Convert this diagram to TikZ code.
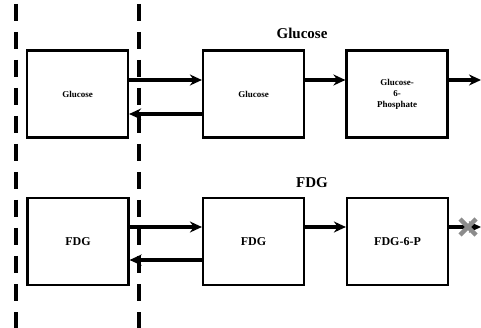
\documentclass[tikz,border=0pt]{standalone}
\usepackage{fontspec}
\setmainfont{Liberation Serif}
\usetikzlibrary{positioning,arrows.meta,patterns}

\begin{document}
\begin{tikzpicture}[
  x=1pt, y=-1pt, >={Stealth[length=12pt,width=11pt]},
  box/.style={draw,line width=2.2pt,minimum width=101pt,minimum height=87pt,
              align=center,inner sep=2pt,font=\bfseries},
  ttl/.style={font=\bfseries\fontsize{15}{15}\selectfont},
  k/.style={->,line width=3.6pt},
  sep/.style={line width=3.6pt,dash pattern=on 17pt off 11pt},
  hatch/.style={line width=4.5pt,black!45},
]
\useasboundingbox (0,0) rectangle (481,328);
% membrane lines
\draw[sep] (16,4) -- (16,328);
\draw[sep] (139,4) -- (139,328);

% glucose row
\node[ttl] (tg) at (302,33) {Glucose};
\node[box,font=\bfseries\fontsize{9}{10}\selectfont] (g1) at (77.5,94) {Glucose};
\node[box,font=\bfseries\fontsize{9}{10}\selectfont] (g2) at (253.5,94) {Glucose};
\node[box,font=\bfseries\fontsize{9}{11}\selectfont] (g3) at (397,94) {Glucose-\\6-\\Phosphate};
\coordinate (gout) at (481,80);

\draw[k] ([yshift=14pt]g1.east) -- ([yshift=14pt]g2.west);
\draw[k] ([yshift=-20pt]g2.west) -- ([yshift=-20pt]g1.east);
\draw[k] ([yshift=14pt]g2.east) -- ([yshift=14pt]g3.west);
\draw[k] ([yshift=14pt]g3.east) -- (gout);

% FDG row
\node[ttl] (tf) at (312,183) {FDG};
\node[box,font=\bfseries\fontsize{12}{13}\selectfont] (f1) at (78,241.5) {FDG};
\node[box,font=\bfseries\fontsize{12}{13}\selectfont] (f2) at (253.5,241.5) {FDG};
\node[box,font=\bfseries\fontsize{12}{13}\selectfont] (f3) at (397.5,241.5) {FDG-6-P};
\coordinate (fout) at (481,227);

\draw[k] ([yshift=14.5pt]f1.east) -- ([yshift=14.5pt]f2.west);
\draw[k] ([yshift=-18.5pt]f2.west) -- ([yshift=-18.5pt]f1.east);
\draw[k] ([yshift=14.5pt]f2.east) -- ([yshift=14.5pt]f3.west);
\draw[k] ([yshift=14.5pt]f3.east) -- (fout);
% blocked step
\coordinate (blk) at (468,227);
\draw[hatch] ([shift={(-8,-8)}]blk) -- ([shift={(8,8)}]blk);
\draw[hatch] ([shift={(-8,8)}]blk) -- ([shift={(8,-8)}]blk);
\end{tikzpicture}
\end{document}
